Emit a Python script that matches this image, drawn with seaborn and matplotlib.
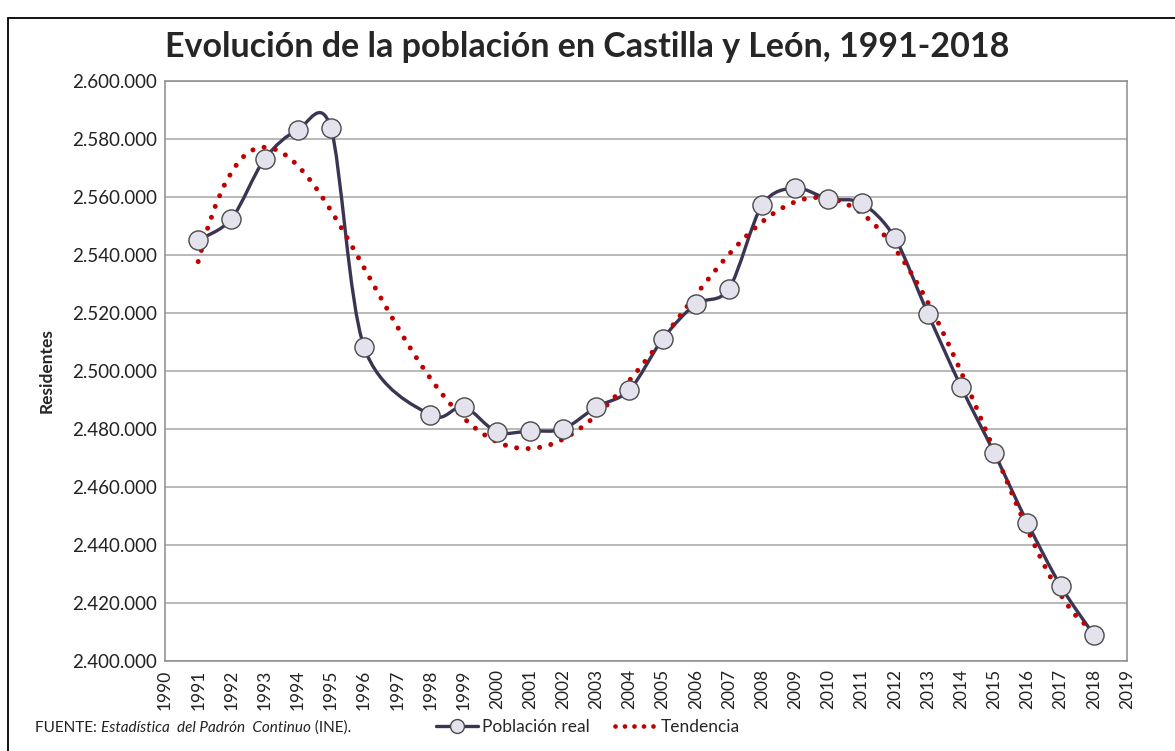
import numpy as np
import pandas as pd
import seaborn as sns
import matplotlib.pyplot as plt
from matplotlib.path import Path
from matplotlib.patches import PathPatch, Rectangle
from matplotlib.lines import Line2D

# Population of Castilla y León (Padrón Continuo), 1997 missing
years = [1991, 1992, 1993, 1994, 1995, 1996, 1998, 1999, 2000, 2001, 2002,
         2003, 2004, 2005, 2006, 2007, 2008, 2009, 2010, 2011, 2012, 2013,
         2014, 2015, 2016, 2017, 2018]
poblacion = [2545200, 2552400, 2573100, 2583100, 2583800, 2508300, 2484800,
             2487700, 2479000, 2479300, 2480000, 2487600, 2493400, 2511000,
             2523100, 2528300, 2557200, 2563100, 2559300, 2557900, 2545900,
             2519700, 2494500, 2471700, 2447600, 2425900, 2409000]
x_ticks = list(range(1990, 2020))
y_ticks = list(range(2400000, 2600001, 20000))

BASE = 1990  # x is stored as years since 1990 so the polynomial fit is well conditioned
df = pd.DataFrame({'t': np.array(years) - BASE, 'poblacion': poblacion})

sns.set_style('white')
plt.rcParams['font.family'] = ['Lato', 'DejaVu Sans']

W, H = 1175, 751
fig = plt.figure(figsize=(W / 100, H / 100), dpi=100)
ax = fig.add_axes([165 / W, 1 - 661 / H, (1127 - 165) / W, (661 - 81) / H])

# outer chart border (cropped screenshot)
fig.patches.append(Rectangle((8 / W, -0.05), 1.2, 1 - 18 / H + 0.05,
                             transform=fig.transFigure, fill=False,
                             edgecolor='black', lw=1.3))

line_col = '#3b3553'
trend_col = '#c00000'

# trend: 6th order polynomial, like the Excel trendline
sns.regplot(data=df, x='t', y='poblacion', order=6, ci=None, scatter=False,
            truncate=True, ax=ax,
            line_kws={'color': trend_col, 'lw': 3.6,
                      'linestyle': (0, (0.01, 2.3)),
                      'dash_capstyle': 'round', 'zorder': 4})

# smoothed line through the points (Excel-style smoothing)
pts = df[['t', 'poblacion']].to_numpy(dtype=float)
verts = [pts[0]]
codes = [Path.MOVETO]
n = len(pts)
k = 1 / 6.5
for i in range(n - 1):
    p0 = pts[i - 1] if i > 0 else pts[i]
    p1 = pts[i]
    p2 = pts[i + 1]
    p3 = pts[i + 2] if i + 2 < n else pts[i + 1]
    verts += [p1 + (p2 - p0) * k, p2 - (p3 - p1) * k, p2]
    codes += [Path.CURVE4] * 3
ax.add_patch(PathPatch(Path(verts, codes), fill=False, edgecolor=line_col,
                       lw=2.4, zorder=3))

sns.scatterplot(data=df, x='t', y='poblacion', ax=ax, s=190,
                color='#e4e2ec', edgecolor='#4a4a4a', linewidth=1.0,
                zorder=5, legend=False)

ax.set_xlim(0, 29)
ax.set_ylim(y_ticks[0], y_ticks[-1])
ax.set_xticks([x - BASE for x in x_ticks])
ax.set_xticklabels([str(x) for x in x_ticks], rotation=90, fontsize=12.5,
                   color='#222222')
ax.set_yticks(y_ticks)
ax.set_yticklabels([f'{v:,}'.replace(',', '.') for v in y_ticks],
                   fontsize=13.5, color='#222222')
ax.tick_params(axis='both', length=0, pad=6)
ax.grid(axis='y', color='#a6a6a6', lw=1.1)
ax.grid(axis='x', visible=False)
for s in ax.spines.values():
    s.set_color('#8c8c8c')
    s.set_linewidth(1.1)
ax.set_xlabel('')
ax.set_ylabel('Residentes', fontsize=12.5, fontweight='bold', labelpad=12)

fig.text(0.5, 1 - 47 / H, 'Evolución de la población en Castilla y León, 1991-2018',
         ha='center', va='center', fontsize=24.5, fontweight='bold')

# legend
handles = [Line2D([], [], color=line_col, lw=2.4, marker='o', markersize=10,
                  markerfacecolor='#e4e2ec', markeredgecolor='#4a4a4a'),
           Line2D([], [], color=trend_col, lw=3.4, linestyle=(0, (0.01, 2.0)),
                  dash_capstyle='round')]
fig.legend(handles, ['Población real', 'Tendencia'], loc='center',
           bbox_to_anchor=(588 / W, 1 - 727 / H), ncol=2, frameon=False,
           fontsize=12.5, handlelength=2.4, handletextpad=0.2, columnspacing=1.5)

# source note with italic title
fig.canvas.draw()
r = fig.canvas.get_renderer()
xpos = 35 / W
ypos = 1 - 728 / H
for txt, style in [('FUENTE: ', 'normal'),
                   ('Estadística  del Padrón  Continuo', 'italic'),
                   (' (INE).', 'normal')]:
    t = fig.text(xpos, ypos, txt, fontsize=11, style=style, va='center',
                 color='#222222')
    bb = t.get_window_extent(renderer=r)
    xpos += bb.width / W

fig.savefig('out.png', dpi=100)
